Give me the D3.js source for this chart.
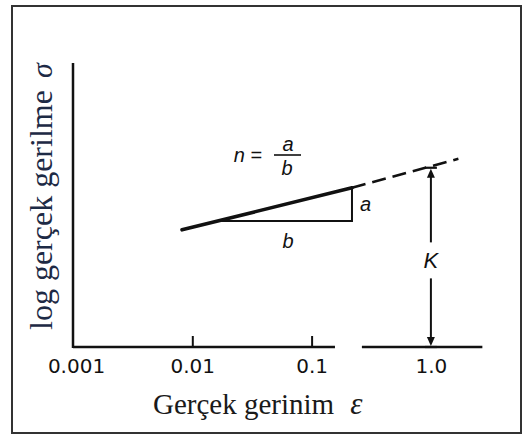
<!DOCTYPE html>
<html>
<head>
<meta charset="utf-8">
<script src="https://cdn.jsdelivr.net/npm/d3@7"></script>
<style>
  html, body { margin: 0; padding: 0; background: #fff; }
  svg { display: block; }
</style>
</head>
<body>
<div id="chart"></div>
<script>
// Strain axis ticks and their printed labels
const strainTicks = [0.001, 0.01, 0.1, 1];
const strainTickLabels = ["0.001", "0.01", "0.1", "1.0"];

// Flow curve on log–log axes: measured part (solid) and extrapolation (dashed)
const solidStrain = [0.0082, 0.218];
const solidStress = [9.6, 21.6];
const dashStrain = [0.218, 1.7];
const dashStress = [21.6, 37.8];

// Slope triangle (run b along the base, rise a at the right end)
const triStrain = [0.0171, 0.218];
const triStress = [11.4, 21.6];

const kStrain = 1.0;
const kStress = 31.8;

// The strain axis is drawn broken into two pieces
const axisSegStart = [0.001, 0.264];
const axisSegEnd = [0.157, 2.7];

// Extent of the stress axis (arbitrary units, log)
const stressAxisRange = [1, 240];

const W = 532, H = 437;
const svg = d3.select("#chart").append("svg")
  .attr("width", W).attr("height", H);

svg.append("rect").attr("width", W).attr("height", H).attr("fill", "#fff");

// outer frame
svg.append("rect")
  .attr("x", 12).attr("y", 6)
  .attr("width", 509).attr("height", 427)
  .attr("fill", "none").attr("stroke", "#333").attr("stroke-width", 2);

const decade = 119.3;
const x = d3.scaleLog().domain([0.001, 1]).range([73, 73 + 3 * decade]);
const y = d3.scaleLog().domain([1, 100]).range([347, 347 - 2 * decade]);

const ink = "#111";

// stress axis
svg.append("line")
  .attr("x1", x(0.001)).attr("x2", x(0.001))
  .attr("y1", y(stressAxisRange[0]) + 1).attr("y2", y(stressAxisRange[1]))
  .attr("stroke", ink).attr("stroke-width", 2.5);

// strain axis pieces
svg.selectAll("line.xseg")
  .data(d3.range(axisSegStart.length))
  .join("line")
  .attr("class", "xseg")
  .attr("x1", i => x(axisSegStart[i])).attr("x2", i => x(axisSegEnd[i]))
  .attr("y1", y(1)).attr("y2", y(1))
  .attr("stroke", ink).attr("stroke-width", 2.5);

// strain axis ticks and labels
const xAxis = d3.axisBottom(x)
  .tickValues(strainTicks)
  .tickFormat((d, i) => strainTickLabels[i])
  .tickSizeInner(-11)
  .tickSizeOuter(0)
  .tickPadding(12);

const gx = svg.append("g")
  .attr("transform", `translate(0,${y(1)})`)
  .call(xAxis);
gx.select(".domain").remove();
gx.selectAll(".tick line")
  .attr("stroke", ink).attr("stroke-width", 2)
  .attr("display", d => (d === 0.01 || d === 0.1) ? null : "none");
gx.selectAll(".tick text")
  .attr("font-family", "DejaVu Sans, Verdana, sans-serif")
  .attr("font-size", 20)
  .attr("dx", d => d === 0.001 ? 3 : 0)
  .attr("fill", ink);

// flow curve
const line = d3.line().x(d => x(d[0])).y(d => y(d[1]));
svg.append("path")
  .datum(solidStrain.map((e, i) => [e, solidStress[i]]))
  .attr("d", line)
  .attr("fill", "none").attr("stroke", ink).attr("stroke-width", 3.6)
  .attr("stroke-linecap", "round");
svg.append("path")
  .datum(dashStrain.map((e, i) => [e, dashStress[i]]))
  .attr("d", line)
  .attr("fill", "none").attr("stroke", ink).attr("stroke-width", 2.6)
  .attr("stroke-dasharray", "14,7");

// slope triangle
svg.append("path")
  .datum([[triStrain[0], triStress[0]], [triStrain[1], triStress[0]], [triStrain[1], triStress[1]]])
  .attr("d", line)
  .attr("fill", "none").attr("stroke", ink).attr("stroke-width", 2);

// K dimension arrow
const kx = x(kStrain), kTop = y(kStress), kBot = y(1);
const kMid = (kTop + kBot) / 2 + 3;
const gap = 18;
svg.append("line")
  .attr("x1", kx).attr("x2", kx).attr("y1", kTop + 4).attr("y2", kMid - gap)
  .attr("stroke", ink).attr("stroke-width", 2);
svg.append("line")
  .attr("x1", kx).attr("x2", kx).attr("y1", kMid + gap).attr("y2", kBot - 4)
  .attr("stroke", ink).attr("stroke-width", 2);
// end bars
[kTop, kBot].forEach(v => {
  svg.append("line")
    .attr("x1", kx - 6).attr("x2", kx + 6).attr("y1", v).attr("y2", v)
    .attr("stroke", ink).attr("stroke-width", 2.2);
});
// arrowheads
svg.append("path")
  .attr("d", `M${kx},${kTop + 1} L${kx - 4},${kTop + 10} L${kx + 4},${kTop + 10} Z`)
  .attr("fill", ink);
svg.append("path")
  .attr("d", `M${kx},${kBot - 1} L${kx - 4},${kBot - 10} L${kx + 4},${kBot - 10} Z`)
  .attr("fill", ink);

const hand = "Liberation Sans, Arial, sans-serif";
svg.append("text")
  .attr("x", kx).attr("y", kMid + 8)
  .attr("text-anchor", "middle")
  .attr("font-family", hand).attr("font-style", "italic")
  .attr("font-size", 22).attr("fill", ink)
  .text("K");

// rise and run labels
svg.append("text")
  .attr("x", x(triStrain[1]) + 8).attr("y", (y(triStress[0]) + y(triStress[1])) / 2 + 7)
  .attr("font-family", hand).attr("font-style", "italic")
  .attr("font-size", 20).attr("fill", ink)
  .text("a");
svg.append("text")
  .attr("x", x(Math.sqrt(triStrain[0] * triStrain[1])) + 2)
  .attr("y", y(triStress[0]) + 27)
  .attr("text-anchor", "middle")
  .attr("font-family", hand).attr("font-style", "italic")
  .attr("font-size", 20).attr("fill", ink)
  .text("b");

// n = a / b
const fx = 288, fy = 155;
svg.append("text")
  .attr("x", 262).attr("y", fy + 7)
  .attr("text-anchor", "end")
  .attr("font-family", hand).attr("font-style", "italic")
  .attr("font-size", 20).attr("fill", ink)
  .text("n =");
svg.append("line")
  .attr("x1", fx - 14).attr("x2", fx + 13).attr("y1", fy).attr("y2", fy)
  .attr("stroke", ink).attr("stroke-width", 1.6);
svg.append("text")
  .attr("x", fx).attr("y", fy - 4)
  .attr("text-anchor", "middle")
  .attr("font-family", hand).attr("font-style", "italic")
  .attr("font-size", 20).attr("fill", ink)
  .text("a");
svg.append("text")
  .attr("x", fx - 1).attr("y", fy + 20)
  .attr("text-anchor", "middle")
  .attr("font-family", hand).attr("font-style", "italic")
  .attr("font-size", 20).attr("fill", ink)
  .text("b");

// axis titles
const serif = "Liberation Serif, Times New Roman, serif";
const xt = svg.append("text")
  .attr("x", 153).attr("y", 414)
  .attr("font-family", serif).attr("font-size", 29).attr("fill", "#1a1a1a");
xt.append("tspan").text("Gerçek gerinim");
xt.append("tspan").attr("dx", 16).attr("font-style", "italic").attr("font-size", 31).text("ε");

const yt = svg.append("text")
  .attr("transform", "translate(52,330) rotate(-90)")
  .attr("font-family", serif).attr("font-size", 32).attr("fill", "#1d2a45");
yt.append("tspan").text("log gerçek gerilme");
yt.append("tspan").attr("dx", 12).attr("font-style", "italic").attr("font-size", 30).text("σ");
</script>
</body>
</html>
